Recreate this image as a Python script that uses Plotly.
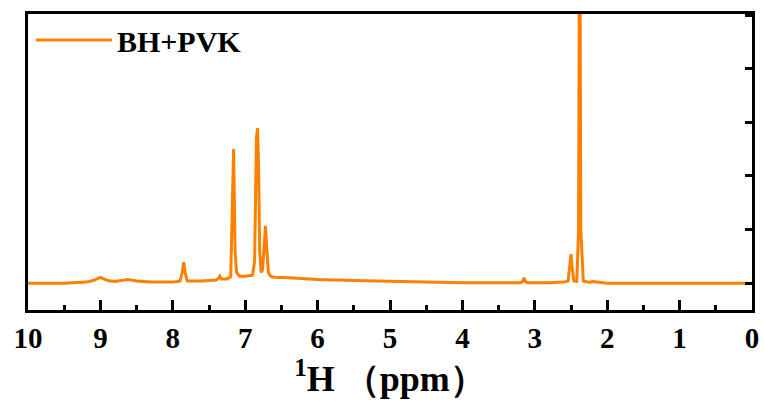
import plotly.graph_objects as go

# chemical shift (ppm) and intensity (arb. units)
ppm = [10.0, 9.5, 9.2, 9.1, 9.0, 8.9, 8.8, 8.7, 8.62, 8.5, 8.3, 8.0, 7.9, 7.87, 7.85, 7.83,
       7.8, 7.6, 7.4, 7.37, 7.35, 7.33, 7.25, 7.20, 7.175, 7.16, 7.15, 7.14, 7.12, 7.08,
       7.0, 6.9, 6.87, 6.845, 6.83, 6.815, 6.80, 6.78, 6.76, 6.735, 6.72, 6.705, 6.68,
       6.65, 6.6, 6.4, 6.0, 5.5, 5.0, 4.5, 4.0, 3.5, 3.2, 3.17, 3.15, 3.13, 3.1, 2.8,
       2.6, 2.54, 2.515, 2.50, 2.485, 2.46, 2.42, 2.395, 2.385, 2.375, 2.365, 2.33, 2.25,
       2.2, 2.0, 1.5, 1.0, 0.5, 0.0]
intensity = [0.0, 0.0, 0.02, 0.05, 0.11, 0.05, 0.03, 0.06, 0.07, 0.04, 0.02, 0.02, 0.04,
             0.2, 0.39, 0.2, 0.04, 0.04, 0.06, 0.09, 0.13, 0.08, 0.08, 0.12, 1.4, 2.5, 1.5,
             0.6, 0.2, 0.13, 0.13, 0.15, 0.4, 2.7, 2.89, 2.2, 0.6, 0.2, 0.25, 0.8, 1.07,
             0.7, 0.2, 0.13, 0.11, 0.1, 0.07, 0.05, 0.03, 0.02, 0.01, 0.01, 0.01, 0.03,
             0.1, 0.03, 0.01, 0.01, 0.02, 0.04, 0.3, 0.54, 0.3, 0.04, 0.03, 1.0, 6.0, 6.0,
             1.0, 0.04, 0.02, 0.03, 0.0, 0.0, 0.0, 0.0, 0.0]

series_name = "BH+PVK"
x_tickvals = [10, 9, 8, 7, 6, 5, 4, 3, 2, 1, 0]
x_ticktext = ["10", "9", "8", "7", "6", "5", "4", "3", "2", "1", "0"]
x_title = "<sup>1</sup>H （ppm）"

FONT = "Liberation Serif, Times New Roman, serif"

fig = go.Figure()
fig.add_trace(go.Scatter(
    x=ppm, y=intensity, mode="lines", name=series_name,
    line=dict(color="#FF8000", width=3),
))

fig.update_layout(
    width=764, height=408,
    margin=dict(l=28, r=12, t=14, b=98),
    paper_bgcolor="white", plot_bgcolor="white",
    showlegend=True,
    legend=dict(
        x=0.004, y=1.0, xanchor="left", yanchor="top",
        bgcolor="rgba(0,0,0,0)", borderwidth=0,
        font=dict(family=FONT, size=30, color="black", weight="bold"),
        itemwidth=76,
    ),
    xaxis=dict(
        range=[10, 0], autorange=False, automargin=False,
        tickvals=x_tickvals, ticktext=x_ticktext,
        ticks="inside", ticklen=10, tickwidth=3, tickcolor="black",
        minor=dict(ticks="inside", dtick=0.5, ticklen=5, tickwidth=3, tickcolor="black"),
        showline=True, linewidth=3, linecolor="black", mirror=True,
        showgrid=False, zeroline=False,
        tickfont=dict(family=FONT, size=29, color="black", weight="bold"),
        title=dict(text=x_title, standoff=8,
                   font=dict(family=FONT, size=36, color="black", weight="bold")),
    ),
    yaxis=dict(
        range=[-0.5, 5.02], autorange=False, automargin=False,
        side="right", dtick=1, tick0=0,
        ticks="inside", ticklen=7, tickwidth=3, tickcolor="black",
        showticklabels=False,
        showline=True, linewidth=3, linecolor="black", mirror=True,
        showgrid=False, zeroline=False,
    ),
)

fig.write_html("out.html")
